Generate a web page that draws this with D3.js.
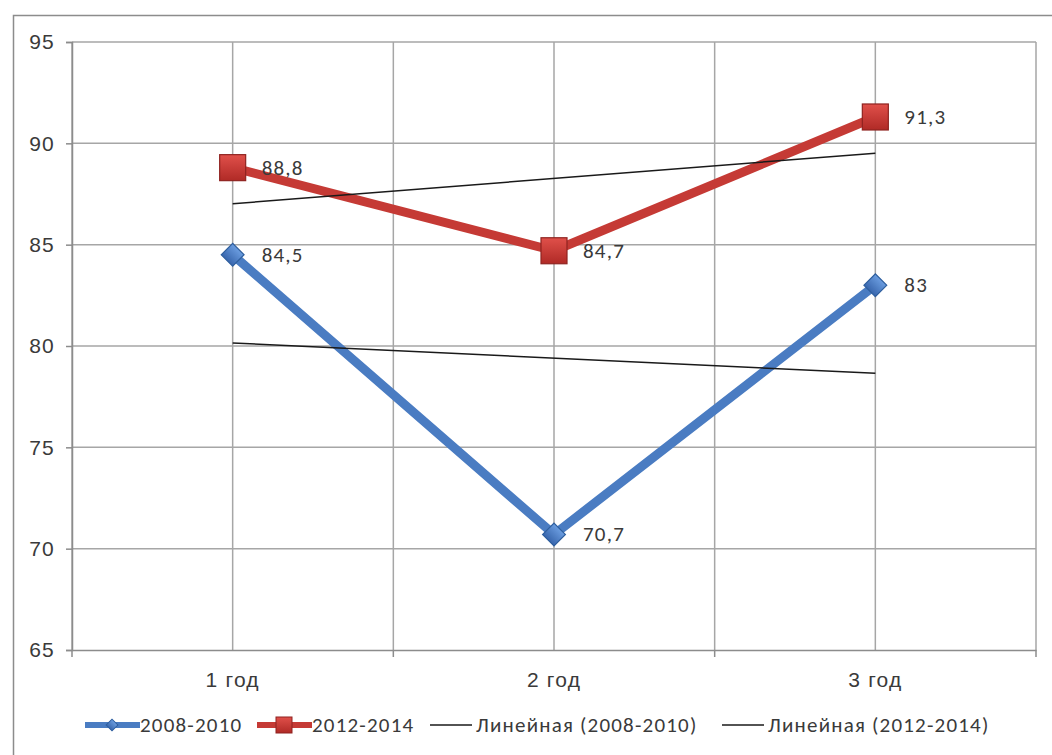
<!DOCTYPE html>
<html>
<head>
<meta charset="utf-8">
<script src="https://cdn.jsdelivr.net/npm/d3@7"></script>
<style>
  html, body { margin: 0; padding: 0; background: #fff; }
  svg { display: block; font-family: Calibri, Carlito, "Open Sans", "Liberation Sans", sans-serif; }
  svg text { letter-spacing: 1.2px; }
</style>
</head>
<body>
<svg id="chart" width="1052" height="755"></svg>
<script>
// Categories and series values
const categories = ["1 год", "2 год", "3 год"];
const series2008 = [84.5, 70.7, 83];
const series2012 = [88.8, 84.7, 91.3];
const seriesNames = ["2008-2010", "2012-2014"];
const trendNames = ["Линейная (2008-2010)", "Линейная (2012-2014)"];
const yTicks = [65, 70, 75, 80, 85, 90, 95];

const svg = d3.select("#chart");
const W = 1052, H = 755;
const plot = { left: 72, top: 42, right: 1036, bottom: 650 };

const blue = "#4a7cc2", blueDark = "#2f5f9e";
const red = "#c53a35", redDark = "#8f2320";
const textColor = "#3a3a3a";
const fontSize = 21;

// Chart-area frame
svg.append("rect")
  .attr("x", 13.5).attr("y", 15.5)
  .attr("width", W + 10).attr("height", H + 10)
  .attr("fill", "#fff").attr("stroke", "#8c8c8c").attr("stroke-width", 1.5);

const x = d3.scaleBand().domain(categories).range([plot.left, plot.right]).paddingInner(0).paddingOuter(0);
const cx = c => x(c) + x.bandwidth() / 2;
const y = d3.scaleLinear().domain([65, 95]).range([plot.bottom, plot.top]);

const gridColor = "#a6a6a6";

// Horizontal gridlines
svg.append("g").selectAll("line").data(yTicks.filter(t => t > 65)).join("line")
  .attr("x1", plot.left).attr("x2", plot.right)
  .attr("y1", d => y(d)).attr("y2", d => y(d))
  .attr("stroke", gridColor).attr("stroke-width", 1.5);

// Vertical gridlines: category centres and boundaries
const boundaries = categories.map(c => x(c) + x.bandwidth()).concat([plot.left]);
const vlines = categories.map(cx).concat(boundaries);
svg.append("g").selectAll("line").data(vlines).join("line")
  .attr("x1", d => d).attr("x2", d => d)
  .attr("y1", plot.top).attr("y2", plot.bottom)
  .attr("stroke", gridColor).attr("stroke-width", 1.5);

// Y axis
const yAxis = d3.axisLeft(y).tickValues(yTicks).tickSize(6).tickPadding(11).tickFormat(d3.format("d"));
const gy = svg.append("g").attr("transform", `translate(${plot.left},0)`).call(yAxis);
gy.select(".domain").attr("stroke", "#8c8c8c").attr("stroke-width", 1.5);
gy.selectAll(".tick line").attr("stroke", "#8c8c8c").attr("stroke-width", 1.5);
gy.selectAll(".tick text").attr("font-size", fontSize).attr("fill", textColor).style("font-family", "inherit");

// X axis
const xAxis = d3.axisBottom(x).tickSize(0).tickPadding(22);
const gx = svg.append("g").attr("transform", `translate(0,${plot.bottom})`).call(xAxis);
gx.select(".domain").attr("stroke", "#8c8c8c").attr("stroke-width", 1.5);
gx.selectAll(".tick text").attr("font-size", fontSize).attr("fill", textColor).style("font-family", "inherit");
// Tick marks between categories
svg.append("g").selectAll("line").data(boundaries).join("line")
  .attr("x1", d => d).attr("x2", d => d)
  .attr("y1", plot.bottom).attr("y2", plot.bottom + 7)
  .attr("stroke", "#8c8c8c").attr("stroke-width", 1.5);

// Least-squares trend line over category positions 1..n
function trend(vals) {
  const n = vals.length;
  const xs = vals.map((_, i) => i + 1);
  const mx = d3.mean(xs), my = d3.mean(vals);
  const b = d3.sum(xs.map((xi, i) => (xi - mx) * (vals[i] - my))) / d3.sum(xs.map(xi => (xi - mx) ** 2));
  const a = my - b * mx;
  return [a + b * 1, a + b * n];
}

const line = d3.line().x((d, i) => cx(categories[i])).y(d => y(d));

// Series lines
svg.append("path").datum(series2012).attr("d", line)
  .attr("fill", "none").attr("stroke", red).attr("stroke-width", 9).attr("stroke-linejoin", "round");
svg.append("path").datum(series2008).attr("d", line)
  .attr("fill", "none").attr("stroke", blue).attr("stroke-width", 9).attr("stroke-linejoin", "round");

// Trend lines
[series2008, series2012].forEach(vals => {
  const t = trend(vals);
  svg.append("line")
    .attr("x1", cx(categories[0])).attr("x2", cx(categories[categories.length - 1]))
    .attr("y1", y(t[0])).attr("y2", y(t[1]))
    .attr("stroke", "#1a1a1a").attr("stroke-width", 1.5);
});

// Gradients for markers
const defs = svg.append("defs");
const gB = defs.append("linearGradient").attr("id", "gBlue").attr("x1", 0).attr("y1", 0).attr("x2", 0).attr("y2", 1);
gB.append("stop").attr("offset", "0%").attr("stop-color", "#6b9de0");
gB.append("stop").attr("offset", "100%").attr("stop-color", "#3866ad");
const gR = defs.append("linearGradient").attr("id", "gRed").attr("x1", 0).attr("y1", 0).attr("x2", 0).attr("y2", 1);
gR.append("stop").attr("offset", "0%").attr("stop-color", "#e0504a");
gR.append("stop").attr("offset", "100%").attr("stop-color", "#b02a26");

// Markers
svg.append("g").selectAll("rect").data(series2012).join("rect")
  .attr("x", (d, i) => cx(categories[i]) - 13).attr("y", d => y(d) - 13)
  .attr("width", 26).attr("height", 26)
  .attr("fill", "url(#gRed)").attr("stroke", redDark).attr("stroke-width", 1.2);
svg.append("g").selectAll("path").data(series2008).join("path")
  .attr("d", d3.symbol().type(d3.symbolSquare).size(260))
  .attr("transform", (d, i) => `translate(${cx(categories[i])},${y(d)}) rotate(45)`)
  .attr("fill", "url(#gBlue)").attr("stroke", blueDark).attr("stroke-width", 1.2);

// Data labels
const fmt = v => String(v).replace(".", ",");
[series2008, series2012].forEach(vals => {
  svg.append("g").selectAll("text").data(vals).join("text")
    .attr("x", (d, i) => cx(categories[i]) + 29).attr("y", d => y(d) + 7)
    .attr("font-size", fontSize).attr("fill", textColor)
    .text(fmt);
});

// Legend
const ly = 725;
const leg = svg.append("g");
function legendSeries(x0, color, dark, grad, shape, label) {
  leg.append("line").attr("x1", x0).attr("x2", x0 + 55).attr("y1", ly).attr("y2", ly)
    .attr("stroke", color).attr("stroke-width", 6);
  if (shape === "diamond") {
    leg.append("path").attr("d", d3.symbol().type(d3.symbolSquare).size(70))
      .attr("transform", `translate(${x0 + 27},${ly}) rotate(45)`)
      .attr("fill", grad).attr("stroke", dark).attr("stroke-width", 1);
  } else {
    leg.append("rect").attr("x", x0 + 27 - 8).attr("y", ly - 8).attr("width", 16).attr("height", 16)
      .attr("fill", grad).attr("stroke", dark).attr("stroke-width", 1);
  }
  leg.append("text").attr("x", x0 + 55).attr("y", ly + 7).attr("font-size", fontSize).attr("fill", textColor).text(label);
}
legendSeries(85, blue, blueDark, "url(#gBlue)", "diamond", seriesNames[0]);
legendSeries(257, red, redDark, "url(#gRed)", "square", seriesNames[1]);
function legendTrend(x0, label) {
  leg.append("line").attr("x1", x0).attr("x2", x0 + 42).attr("y1", ly).attr("y2", ly)
    .attr("stroke", "#1a1a1a").attr("stroke-width", 1.5);
  leg.append("text").attr("x", x0 + 46).attr("y", ly + 7).attr("font-size", fontSize).attr("fill", textColor).text(label);
}
legendTrend(430, trendNames[0]);
legendTrend(722, trendNames[1]);
</script>
</body>
</html>
